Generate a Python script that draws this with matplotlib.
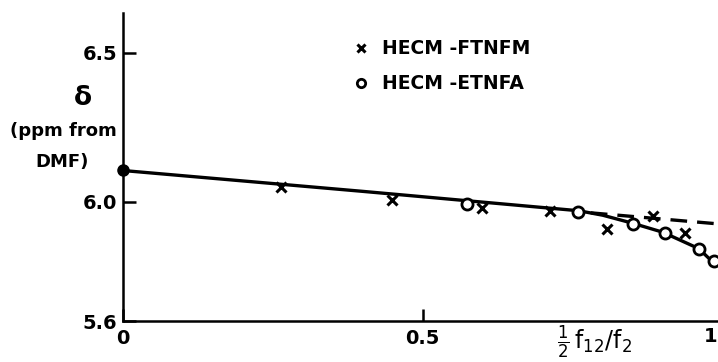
import matplotlib
matplotlib.use("Agg")
import matplotlib.pyplot as plt

# HECM-FTNFM (crosses)
ftnfm_x = [0.263, 0.448, 0.598, 0.712, 0.807, 0.883, 0.937]
ftnfm_y = [6.050, 6.005, 5.980, 5.970, 5.910, 5.953, 5.897]

# HECM-ETNFA (open circles)
etnfa_x = [0.573, 0.758, 0.850, 0.903, 0.960, 0.985]
etnfa_y = [5.993, 5.967, 5.927, 5.897, 5.843, 5.800]

# pure component point
start_x = [0.0]
start_y = [6.105]

# drawn curves
curve_x = [0.0, 0.40, 0.76, 0.80, 0.85, 0.90, 0.96, 0.99]
curve_y = [6.105, 6.035, 5.970, 5.955, 5.928, 5.898, 5.843, 5.785]
dash_x = [0.78, 0.992]
dash_y = [5.963, 5.926]

plt.rcParams['font.family'] = ['DejaVu Sans']
plt.rcParams['mathtext.fontset'] = 'dejavusans'

fig = plt.figure(figsize=(7.18, 3.62), dpi=100)
ax = fig.add_axes([0.171, 0.113, 0.829, 0.851])

ax.plot(curve_x, curve_y, c='black', lw=2.4, solid_capstyle='butt')
ax.plot(dash_x, dash_y, c='black', lw=2.4, dashes=(5, 3))
ax.plot(start_x, start_y, 'o', c='black', ms=8, clip_on=False, zorder=5)
ax.plot(ftnfm_x, ftnfm_y, 'x', c='black', ms=7, mew=2.2, ls='none',
        label='HECM -FTNFM', zorder=4)
ax.plot(etnfa_x, etnfa_y, 'o', mfc='white', mec='black', ms=8, mew=2,
        ls='none', label='HECM -ETNFA', zorder=4)

ax.set_xlim(0, 0.992)
ax.set_ylim(5.6, 6.633)
ax.set_xticks([0, 0.5])
ax.set_xticklabels(['0', '0.5'])
ax.set_yticks([5.6, 6.0, 6.5])
ax.set_yticklabels(['5.6', '6.0', '6.5'])
ax.tick_params(direction='in', length=9, width=1.8, labelsize=14, pad=4)
ax.tick_params(axis='x', pad=6)
for lab in ax.get_xticklabels() + ax.get_yticklabels():
    lab.set_fontweight('bold')
for s in ['top', 'right']:
    ax.spines[s].set_visible(False)
for s in ['left', 'bottom']:
    ax.spines[s].set_linewidth(1.8)

# y label in three pieces
fig.text(83 / 718, 1 - 98 / 362, '\u03b4', fontsize=19, fontweight='bold',
         ha='center', va='center')
fig.text(63 / 718, 1 - 131 / 362, '(ppm from', fontsize=13, fontweight='bold',
         ha='center', va='center')
fig.text(62 / 718, 1 - 162 / 362, 'DMF)', fontsize=13, fontweight='bold',
         ha='center', va='center')

# x label
fig.text(595 / 718, 1 - 342 / 362, r'$\frac{1}{2}\,\mathrm{f}_{12}/\mathrm{f}_2$',
         fontsize=17, ha='center', va='center')
fig.text(717 / 718, 1 - 337 / 362, '1', fontsize=14, fontweight='bold',
         ha='right', va='center')

leg = ax.legend(loc='upper left', bbox_to_anchor=(348 / 718, 1 - 32 / 362),
                bbox_transform=fig.transFigure, frameon=False, handlelength=0.6,
                handletextpad=0.8, labelspacing=0.85, borderaxespad=0,
                prop={'size': 13.5, 'weight': 'bold'})
for h in leg.legend_handles:
    h.set_markersize(6)

fig.savefig('out.png', dpi=100)
